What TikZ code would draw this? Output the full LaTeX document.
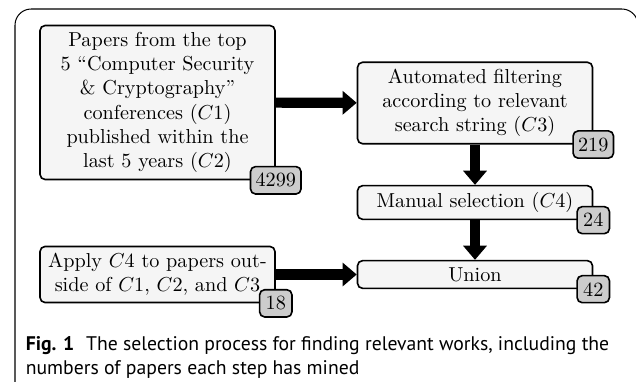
\documentclass[tikz,border=0pt]{standalone}
\usepackage{fontspec}
\usetikzlibrary{arrows.meta}
\newfontfamily\capfont{PT Sans}

\begin{document}
\begin{tikzpicture}[x=0.495pt, y=-0.495pt, line width=0.8pt]
    \tikzstyle{stage}=[draw=black, fill=black!4, rounded corners=2.5pt, align=center, minimum width=116.3pt]
    \tikzstyle{count}=[draw=black, fill=black!20, rounded corners=2.5pt, inner xsep=2.5pt, inner ysep=3.3pt, minimum width=16pt]
    \tikzstyle{flow}=[-{Triangle[width=11.4pt, length=7pt]}, line width=5pt, black]

    \useasboundingbox (0,0) rectangle (636,381);
    % outer frame, only its top and left side are in view
    \draw[line width=0.5pt, rounded corners=8pt] (15,384) -- (15,9) -- (638,9) -- (638,40);

    \node[stage] (papers) at (157.5,102.5) {Papers from the top\\5 ``Computer Security\\\& Cryptography''\\conferences ($C1$)\\published within the\\last 5 years ($C2$)};
    \node[stage] (filter) at (475,103) {Automated filtering\\according to relevant\\search string ($C3$)};
    \node[stage] (manual) at (475,202.5) {Manual selection ($C4$)};
    \node[stage] (union) at (475,274.5) {Union};
    \node[stage] (apply) at (157.5,274.5) {Apply $C4$ to papers out-\\side of $C1$, $C2$, and $C3$};

    \node[count] (n-papers) at (papers.south east) {4299};
    \node[count] (n-filter) at (filter.south east) {219};
    \node[count] (n-manual) at (manual.south east) {24};
    \node[count] (n-union) at (union.south east) {42};
    \node[count] (n-apply) at (apply.south east) {18};

    \path (papers) edge[flow] (filter);
    \path (filter) edge[flow] (manual);
    \path (manual) edge[flow] (union);
    \path (apply) edge[flow] (union);

    % caption, base anchor sits on the last line
    \node[anchor=base west, align=left, font=\capfont\fontsize{9.75}{11.4}\selectfont, inner sep=0pt] (caption) at (25,374)
        {\textbf{Fig. 1}\hspace{0.6em}The selection process for finding relevant works, including the\\numbers of papers each step has mined};
\end{tikzpicture}
\end{document}
